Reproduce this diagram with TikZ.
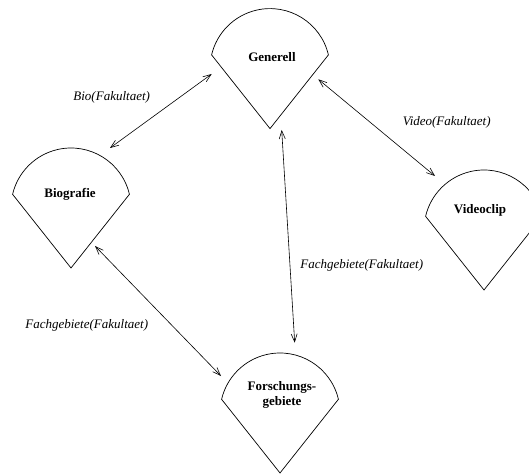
\documentclass[tikz,border=0pt]{standalone}
\usepackage{fontspec}
\setmainfont{Liberation Serif}
\usetikzlibrary{arrows.meta}
\tikzset{
  cone/.pic={\draw[conestroke] (13.2:60) arc[start angle=13.2,end angle=166.8,radius=60] -- (0,-60) -- cycle;},
  conestroke/.style={line width=0.7pt, line join=miter},
  title/.style={font=\fontsize{13}{15}\selectfont\bfseries, align=center, inner sep=0pt},
  rel/.style={font=\fontsize{13}{15}\selectfont\itshape, inner sep=0pt},
  link/.style={line width=0.6pt, {Straight Barb[length=8pt,width=6pt]}-{Straight Barb[length=8pt,width=6pt]}}
}
\begin{document}
\begin{tikzpicture}[x=1pt,y=1pt]
\useasboundingbox (0,0) rectangle (529,474);
\clip (0,0) rectangle (529,474);

% entity shapes
\pic at (270,405.4) {cone};
\pic at (71,266) {cone};
\pic at (484,244) {cone};
\pic at (280,61) {cone};

% entity titles
\node[title] (gen) at (272,417.3) {Generell};
\node[title] (bio) at (70,279.7) {Biografie};
\node[title] (vid) at (480,263.3) {Videoclip};
\node[title] (for) at (282,78.6) {Forschungs-\\gebiete};

% connector ends
\coordinate (gen-w) at (211.7,400);
\coordinate (gen-e) at (318.3,394.7);
\coordinate (gen-s) at (281.7,344);
\coordinate (bio-n) at (110,326);
\coordinate (bio-s) at (95,228);
\coordinate (vid-n) at (435,298);
\coordinate (for-n) at (294.7,131.3);
\coordinate (for-w) at (221,98);

% relations
\draw[link] (gen-w) -- (bio-n);
\draw[link] (gen-e) -- (vid-n);
\draw[link] (gen-s) -- (for-n);
\draw[link] (bio-s) -- (for-w);

% relation labels
\node[rel] (l-bio) at (111.7,376.7) {Bio(Fakultaet)};
\node[rel] (l-vid) at (446.7,351.3) {Video(Fakultaet)};
\node[rel] (l-fach1) at (86.7,149) {Fachgebiete(Fakultaet)};
\node[rel] (l-fach2) at (361.7,209) {Fachgebiete(Fakultaet)};
\end{tikzpicture}
\end{document}
